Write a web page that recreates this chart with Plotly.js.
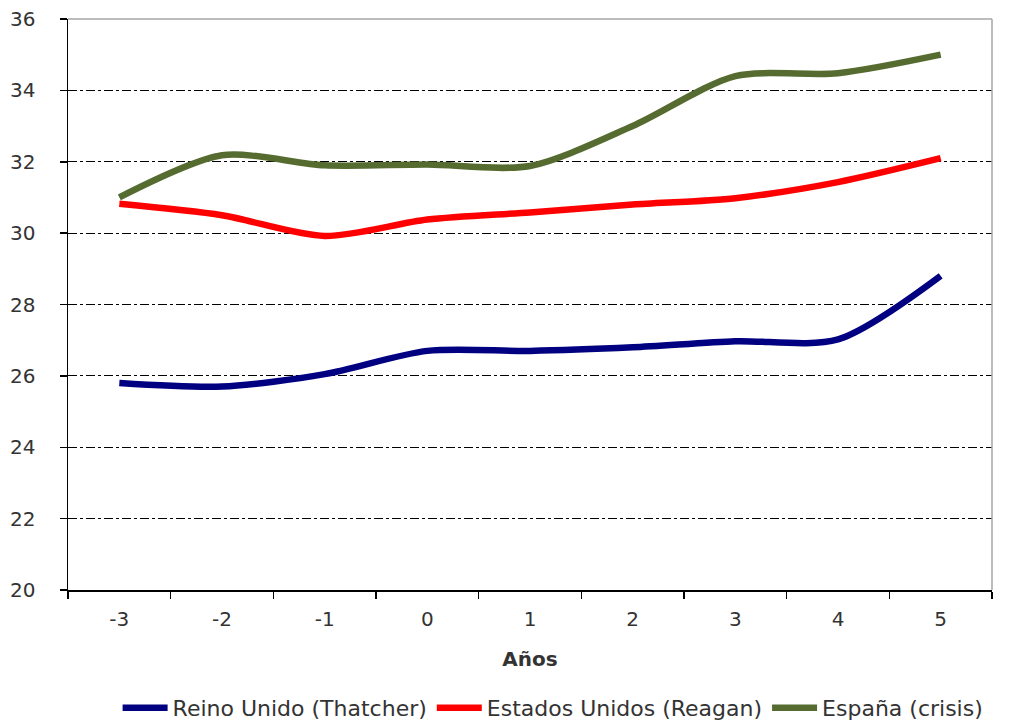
<!DOCTYPE html>
<html><head><meta charset="utf-8">
<script src="https://cdn.plot.ly/plotly-3.0.1.min.js"></script>
<style>html,body{margin:0;padding:0;background:#fff;}#chart{width:1026px;height:721px;}</style>
</head><body><div id="chart"></div>
<script>
const years = ["-3","-2","-1","0","1","2","3","4","5"];
const reinoUnido = [25.8, 25.7, 26.05, 26.7, 26.7, 26.8, 26.97, 27.02, 28.8];
const estadosUnidos = [30.82, 30.5, 29.92, 30.38, 30.58, 30.8, 30.98, 31.43, 32.1];
const espana = [31.0, 32.18, 31.9, 31.92, 31.88, 33.0, 34.4, 34.48, 35.0];
const yTicks = [20,22,24,26,28,30,32,34,36];

const mk = (name, y, color) => ({
  x: years, y: y, name: name, type: 'scatter', mode: 'lines',
  line: {color: color, width: 6.5, shape: 'spline', smoothing: 0.8}
});
const data = [
  mk('Reino Unido (Thatcher)', reinoUnido, '#000080'),
  mk('Estados Unidos (Reagan)', estadosUnidos, '#ff0000'),
  mk('España (crisis)', espana, '#556b2f')
];
const fam = 'DejaVu Sans, Liberation Sans, Arial, sans-serif';
const layout = {
  width: 1026, height: 721,
  margin: {l: 68, r: 34, t: 19, b: 131, autoexpand: false},
  paper_bgcolor: '#fff', plot_bgcolor: '#fff',
  font: {family: fam, color: '#333'},
  showlegend: true,
  legend: {orientation: 'h', x: 0.525, xanchor: 'center', xref: 'paper',
    yref: 'container', y: 0.018, yanchor: 'middle',
    font: {family: fam, size: 22, color: '#333'}, itemwidth: 45, tracegroupgap: 0},
  xaxis: {
    type: 'category', range: [-0.5, 8.5], tickson: 'boundaries',
    ticks: 'outside', ticklen: 7, tickcolor: '#000', tickwidth: 1.5,
    showline: true, linecolor: '#000', linewidth: 1.5, showgrid: false, zeroline: false,
    tickfont: {size: 20, color: '#333', family: fam}, ticklabelstandoff: 10,
    title: {text: '<b>Años</b>', font: {size: 20, color: '#333', family: fam}, standoff: 22}
  },
  yaxis: {
    range: [20, 36], tickvals: yTicks, ticks: 'outside', ticklen: 7, tickcolor: '#000', tickwidth: 1.5,
    showline: true, linecolor: '#000', linewidth: 1.5, zeroline: false,
    showgrid: true, gridcolor: '#000', gridwidth: 1, griddash: 'dashdot',
    tickfont: {size: 20, color: '#333', family: fam}, ticklabelstandoff: 20
  },
  shapes: [
    {type: 'line', xref: 'paper', yref: 'paper', x0: 0, x1: 1, y0: 1, y1: 1, line: {color: '#a6a6a6', width: 1.5}},
    {type: 'line', xref: 'paper', yref: 'paper', x0: 1, x1: 1, y0: 0, y1: 1, line: {color: '#a6a6a6', width: 1.5}}
  ]
};
Plotly.newPlot('chart', data, layout, {displayModeBar: false, staticPlot: true});
</script></body></html>
